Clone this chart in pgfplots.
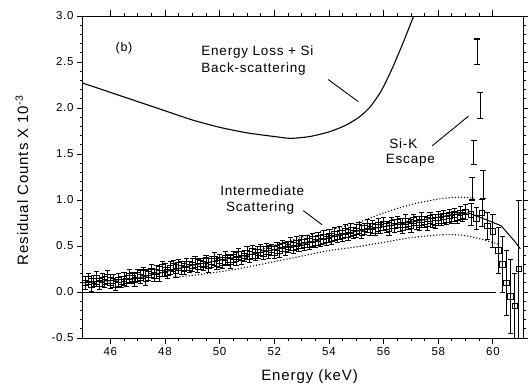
\documentclass[border=0pt]{standalone}
\usepackage{fontspec}
\setmainfont{Liberation Sans}[LetterSpace=6]
\usepackage{pgfplots}
\usepackage{pgfplotstable}
\pgfplotsset{compat=1.18}

\pgfplotstableread{
x y e
45.1 0.10 0.07
45.2 0.14 0.06
45.3 0.08 0.07
45.4 0.12 0.06
45.5 0.15 0.07
45.6 0.09 0.06
45.7 0.13 0.07
45.8 0.11 0.06
45.9 0.16 0.07
46.0 0.10 0.06
46.1 0.12 0.07
46.2 0.08 0.06
46.3 0.13 0.07
46.4 0.11 0.06
46.5 0.14 0.07
46.6 0.12 0.06
46.7 0.17 0.07
46.8 0.15 0.06
46.9 0.13 0.07
47.0 0.18 0.06
47.1 0.16 0.07
47.2 0.21 0.06
47.3 0.15 0.08
47.4 0.19 0.06
47.5 0.23 0.07
47.6 0.18 0.06
47.7 0.22 0.07
47.8 0.20 0.08
47.9 0.27 0.06
48.0 0.24 0.07
48.1 0.21 0.06
48.2 0.26 0.07
48.3 0.28 0.06
48.4 0.23 0.07
48.5 0.29 0.06
48.6 0.26 0.07
48.7 0.25 0.06
48.8 0.30 0.07
48.9 0.27 0.06
49.0 0.29 0.07
49.1 0.33 0.06
49.2 0.28 0.07
49.3 0.31 0.06
49.4 0.30 0.07
49.5 0.34 0.06
49.6 0.29 0.08
49.7 0.33 0.06
49.8 0.36 0.07
49.9 0.31 0.06
50.0 0.34 0.07
50.1 0.32 0.06
50.2 0.37 0.07
50.3 0.35 0.06
50.4 0.33 0.07
50.5 0.38 0.06
50.6 0.36 0.07
50.7 0.41 0.06
50.8 0.37 0.07
50.9 0.39 0.06
51.0 0.42 0.07
51.1 0.38 0.06
51.2 0.44 0.07
51.3 0.40 0.06
51.4 0.43 0.07
51.5 0.46 0.06
51.6 0.42 0.07
51.7 0.47 0.06
51.8 0.44 0.07
51.9 0.46 0.06
52.0 0.43 0.07
52.1 0.48 0.06
52.2 0.45 0.07
52.3 0.50 0.06
52.4 0.47 0.07
52.5 0.49 0.06
52.6 0.52 0.07
52.7 0.48 0.06
52.8 0.53 0.07
52.9 0.50 0.06
53.0 0.54 0.07
53.1 0.51 0.06
53.2 0.55 0.07
53.3 0.52 0.06
53.4 0.57 0.07
53.5 0.54 0.06
53.6 0.58 0.07
53.7 0.55 0.06
53.8 0.60 0.07
53.9 0.57 0.06
54.0 0.61 0.07
54.1 0.58 0.06
54.2 0.63 0.07
54.3 0.60 0.06
54.4 0.64 0.07
54.5 0.61 0.06
54.6 0.66 0.07
54.7 0.62 0.06
54.8 0.67 0.07
54.9 0.64 0.06
55.0 0.66 0.07
55.1 0.70 0.06
55.2 0.65 0.07
55.3 0.69 0.06
55.4 0.72 0.07
55.5 0.68 0.06
55.6 0.71 0.07
55.7 0.67 0.06
55.8 0.73 0.07
55.9 0.70 0.06
56.0 0.74 0.07
56.1 0.71 0.06
56.2 0.69 0.07
56.3 0.75 0.06
56.4 0.72 0.07
56.5 0.76 0.06
56.6 0.73 0.07
56.7 0.70 0.06
56.8 0.77 0.07
56.9 0.74 0.06
57.0 0.72 0.07
57.1 0.78 0.06
57.2 0.75 0.07
57.3 0.73 0.06
57.4 0.79 0.07
57.5 0.76 0.06
57.6 0.74 0.07
57.7 0.80 0.06
57.8 0.77 0.07
57.9 0.75 0.06
58.0 0.81 0.07
58.1 0.78 0.06
58.2 0.82 0.07
58.3 0.79 0.06
58.4 0.83 0.07
58.5 0.80 0.06
58.6 0.84 0.07
58.7 0.81 0.06
58.8 0.86 0.07
58.9 0.83 0.06
59.0 0.87 0.08
59.2 0.84 0.12
59.4 0.80 0.12
59.6 0.86 0.15
59.8 0.72 0.15
60.0 0.66 0.18
60.2 0.45 0.25
60.35 0.30 0.30
60.5 0.10 0.35
60.65 -0.05 0.40
60.8 -0.15 0.35
60.95 0.25 0.75
}\datatab

\pgfplotstableread{
x y e
59.43 2.61 0.14
59.54 2.03 0.14
59.29 1.52 0.13
59.25 1.12 0.12
59.65 1.17 0.15
}\escapetab

\begin{document}
\begin{tikzpicture}
\useasboundingbox (-83pt,-51pt) rectangle (445pt,338pt);
\begin{axis}[
  at={(0,0)}, anchor=south west,
  scale only axis, width=440pt, height=322pt,
  xmin=45, xmax=61.1, ymin=-0.5, ymax=3.0,
  xtick={46,48,...,60}, ytick={-0.5,0,...,3.0},
  minor x tick num=3, minor y tick num=4,
  tick align=outside, major tick length=6pt, minor tick length=3pt,
  axis line style={line width=1pt}, tick style={line width=0.9pt, black},
  xticklabel style={font=\fontsize{11.5}{13}\selectfont, /pgf/number format/assume math mode=true},
  yticklabel style={font=\fontsize{11.5}{13}\selectfont, /pgf/number format/.cd, fixed, fixed zerofill, precision=1, assume math mode=true},
  xlabel={Energy (keV)},
  ylabel={Residual Counts X 10\textsuperscript{-3}},
  xlabel style={font=\fontsize{15}{17}\selectfont, at={(axis description cs:0.515,-0.12)}, anchor=center},
  ylabel style={font=\fontsize{15}{17}\selectfont, at={(axis description cs:-0.139,0.49)}, anchor=center},
  clip=true,
]
% Energy loss + Si back-scattering
\addplot[black, line width=1.1pt, smooth, tension=0.4] coordinates {
(45.0,2.27)(46.0,2.17)(47.0,2.07)(48.0,1.97)(49.0,1.87)(50.0,1.79)(51.0,1.73)(52.0,1.69)(52.6,1.67)(53.3,1.69)(54.0,1.74)(54.6,1.81)(55.1,1.90)(55.5,2.01)(55.9,2.18)(56.3,2.42)(56.7,2.70)(57.1,3.00)};
% upper dotted envelope
\addplot[black, line width=1.1pt, dotted, smooth] coordinates {
(51.5,0.46)(52.5,0.55)(53.5,0.64)(54.5,0.71)(55.2,0.77)(56.0,0.86)(57.0,0.95)(58.0,1.01)(58.7,1.03)(59.3,1.02)};
% lower dotted envelope
\addplot[black, line width=1.1pt, dotted, smooth] coordinates {
(48.3,0.16)(49.0,0.18)(50.0,0.22)(51.0,0.27)(52.0,0.33)(53.0,0.39)(54.0,0.45)(55.0,0.49)(56.0,0.54)(57.0,0.59)(58.0,0.62)(58.8,0.62)(59.5,0.58)(60.2,0.52)};
% fit line
\addplot[black, line width=1pt] coordinates {
(45.0,0.10)(47.0,0.15)(49.0,0.29)(51.0,0.40)(53.0,0.52)(55.0,0.66)(57.0,0.76)(58.5,0.84)(59.1,0.86)(59.8,0.78)(60.3,0.72)(60.8,0.55)(61.0,0.47)};
% zero line
\addplot[black, line width=1pt] coordinates {(45,0)(60.1,0)};
% data
\addplot[black, only marks, mark=square, mark size=2.8pt, mark options={line width=0.9pt, fill=white},
  error bars/.cd, y dir=both, y explicit, error bar style={line width=0.9pt}, error mark options={rotate=90, mark size=2.6pt, line width=0.9pt}]
  table[x=x, y=y, y error=e] {\datatab};
% Si-K escape
\addplot[black, only marks, mark=-, mark size=0pt,
  error bars/.cd, y dir=both, y explicit, error bar style={line width=1.1pt}, error mark options={rotate=90, mark size=3pt, line width=1.1pt}]
  table[x=x, y=y, y error=e] {\escapetab};

% annotations
\node[font=\fontsize{12.5}{15}\selectfont] at (axis cs:46.5,2.65) {(b)};
\node[font=\fontsize{13.5}{16}\selectfont, anchor=west] at (axis cs:49.2,2.61) {Energy Loss + Si};
\node[font=\fontsize{13.5}{16}\selectfont, anchor=west] at (axis cs:49.2,2.42) {Back-scattering};
\draw[line width=0.9pt] (axis cs:53.97,2.31) -- (axis cs:55.07,2.07);
\node[font=\fontsize{13.5}{16}\selectfont] at (axis cs:56.72,1.61) {Si-K};
\node[font=\fontsize{13.5}{16}\selectfont] at (axis cs:56.98,1.43) {Escape};
\draw[line width=0.9pt] (axis cs:57.78,1.59) -- (axis cs:59.10,1.91);
\node[font=\fontsize{13.5}{16}\selectfont] at (axis cs:51.56,1.10) {Intermediate};
\node[font=\fontsize{13.5}{16}\selectfont] at (axis cs:51.48,0.91) {Scattering};
\draw[line width=0.9pt] (axis cs:53.06,0.885) -- (axis cs:53.75,0.73);
\end{axis}
\end{tikzpicture}
\end{document}
